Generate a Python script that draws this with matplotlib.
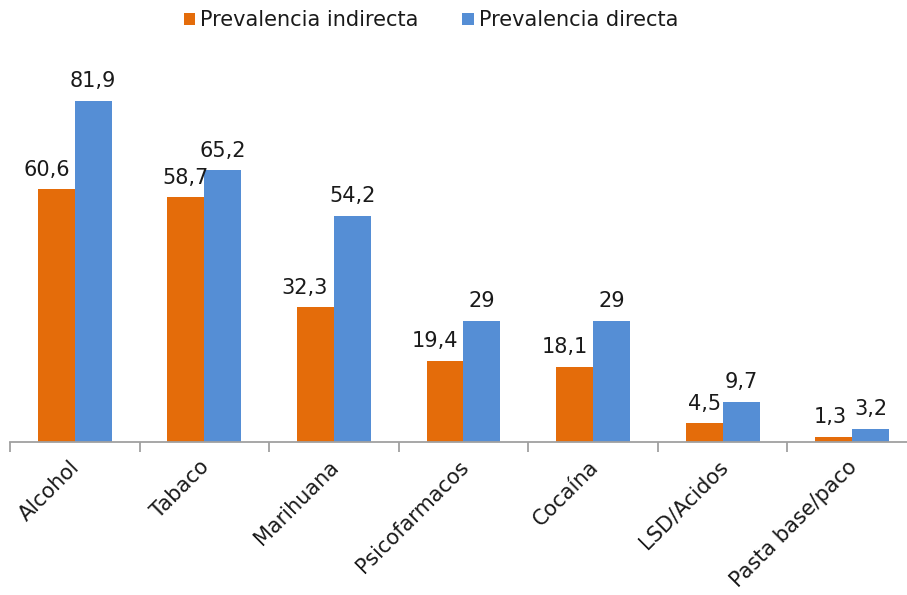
import numpy as np
import matplotlib.pyplot as plt
from matplotlib.transforms import ScaledTranslation

categorias = ["Alcohol", "Tabaco", "Marihuana", "Psicofarmacos", "Cocaína",
              "LSD/Acidos", "Pasta base/paco"]
indirecta = [60.6, 58.7, 32.3, 19.4, 18.1, 4.5, 1.3]
directa = [81.9, 65.2, 54.2, 29, 29, 9.7, 3.2]

naranja = "#E46C0A"
azul = "#558ED5"

plt.rcParams['font.family'] = ['DejaVu Sans']
fs = 15

fig = plt.figure(figsize=(9.07, 5.95), dpi=100)
ax = fig.add_axes([10 / 907, 1 - 442 / 595, 907 / 907, 375 / 595])

x = np.arange(len(categorias))
w = 0.285
b1 = ax.bar(x - w / 2, indirecta, w, color=naranja, label="Prevalencia indirecta")
b2 = ax.bar(x + w / 2, directa, w, color=azul, label="Prevalencia directa")

def fmt(v):
    return (("%g" % v).replace(".", ","))

# excel nudges some orange labels left so they don't hit the blue ones
nudge = [-10, 0, -11, -10, -10, 0, -4]
for i, (r, v) in enumerate(zip(b1, indirecta)):
    ax.annotate(fmt(v), (r.get_x() + r.get_width() / 2, v),
                xytext=(nudge[i] * 0.72, 7), textcoords="offset points",
                ha="center", va="bottom", fontsize=fs, color="#1a1a1a")
for r, v in zip(b2, directa):
    ax.annotate(fmt(v), (r.get_x() + r.get_width() / 2, v),
                xytext=(0, 7), textcoords="offset points",
                ha="center", va="bottom", fontsize=fs, color="#1a1a1a")

ax.set_xlim(-0.5, len(categorias) - 0.5)
ax.set_ylim(0, 90)
ax.set_yticks([])
for s in ("top", "right", "left"):
    ax.spines[s].set_visible(False)
ax.spines["bottom"].set_color("#a0a0a0")
ax.spines["bottom"].set_linewidth(1.3)

ax.set_xticks(np.arange(len(categorias) + 1) - 0.5, minor=True)
ax.set_xticks(x)
ax.set_xticklabels(categorias, rotation=45, ha="right", rotation_mode="anchor",
                   fontsize=fs, color="#1a1a1a")
ax.tick_params(axis="x", which="major", length=0, pad=9)
ax.tick_params(axis="x", which="minor", length=7, color="#a0a0a0", width=1.3)
shift = ScaledTranslation(-5 / 100, -2 / 100, fig.dpi_scale_trans)
for lbl in ax.get_xticklabels():
    lbl.set_transform(lbl.get_transform() + shift)

ax.legend(loc="upper center", bbox_to_anchor=(431 / 907, 1.014), bbox_transform=fig.transFigure,
          ncol=2, frameon=False, fontsize=fs, handlelength=0.55, handleheight=0.55,
          handletextpad=0.25, columnspacing=2.1, labelcolor="#1a1a1a")

fig.savefig("out.png", dpi=100)
